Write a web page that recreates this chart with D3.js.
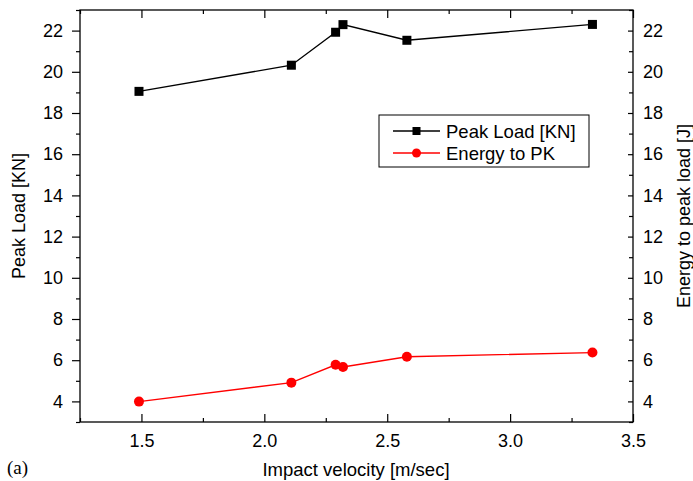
<!DOCTYPE html>
<html>
<head>
<meta charset="utf-8">
<script src="https://cdn.jsdelivr.net/npm/d3@7"></script>
<style>
  body { margin: 0; background: #fff; }
  svg { display: block; font-family: "Liberation Sans", Arial, sans-serif; }
</style>
</head>
<body>
<svg width="693" height="481"></svg>
<script>
const velocity = [1.49, 2.11, 2.29, 2.32, 2.58, 3.335];
const peakLoad = [19.05, 20.32, 21.92, 22.29, 21.53, 22.3];
const energy = [3.99, 4.91, 5.78, 5.67, 6.17, 6.37];
const xTicks = [1.5, 2.0, 2.5, 3.0, 3.5];
const yTicks = [4, 6, 8, 10, 12, 14, 16, 18, 20, 22];

const svg = d3.select("svg");
const plotL = 80, plotR = 633, plotT = 10, plotB = 422;
const fs = 18;

const x = d3.scaleLinear().domain([1.25, 3.5]).range([plotL, plotR]);
const y = d3.scaleLinear().domain([3, 23]).range([plotB, plotT]);

const minorX = d3.range(1.25, 3.5, 0.25).filter(v => !xTicks.some(t => Math.abs(t - v) < 1e-6));
const minorY = d3.range(3, 23.01, 1).filter(v => !yTicks.includes(v));

// frame
svg.append("rect")
  .attr("x", plotL).attr("y", plotT)
  .attr("width", plotR - plotL).attr("height", plotB - plotT)
  .attr("fill", "none").attr("stroke", "#000").attr("stroke-width", 1.3);

const tickStyle = g => g.call(g => g.select(".domain").remove())
  .call(g => g.selectAll("line").attr("stroke", "#000").attr("stroke-width", 1.2))
  .call(g => g.selectAll("text").attr("font-size", fs).attr("fill", "#000"));

// bottom axis (ticks inward)
svg.append("g").attr("transform", `translate(0,${plotB})`)
  .call(d3.axisBottom(x).tickValues(xTicks).tickFormat(d3.format(".1f")).tickSizeInner(-8).tickSizeOuter(0).tickPadding(12))
  .call(tickStyle);
svg.append("g").attr("transform", `translate(0,${plotB})`)
  .call(d3.axisBottom(x).tickValues(minorX).tickFormat("").tickSizeInner(-4).tickSizeOuter(0))
  .call(tickStyle);
// top axis (ticks inward, no labels)
svg.append("g").attr("transform", `translate(0,${plotT})`)
  .call(d3.axisTop(x).tickValues(xTicks).tickFormat("").tickSizeInner(-8).tickSizeOuter(0))
  .call(tickStyle);
svg.append("g").attr("transform", `translate(0,${plotT})`)
  .call(d3.axisTop(x).tickValues(minorX).tickFormat("").tickSizeInner(-4).tickSizeOuter(0))
  .call(tickStyle);

// left axis (ticks outward)
svg.append("g").attr("transform", `translate(${plotL},0)`)
  .call(d3.axisLeft(y).tickValues(yTicks).tickSizeInner(8).tickSizeOuter(0).tickPadding(9))
  .call(tickStyle);
svg.append("g").attr("transform", `translate(${plotL},0)`)
  .call(d3.axisLeft(y).tickValues(minorY).tickFormat("").tickSizeInner(4).tickSizeOuter(0))
  .call(tickStyle);

// right axis (ticks inward)
svg.append("g").attr("transform", `translate(${plotR},0)`)
  .call(d3.axisRight(y).tickValues(yTicks).tickSizeInner(-5).tickSizeOuter(0).tickPadding(10))
  .call(tickStyle);
svg.append("g").attr("transform", `translate(${plotR},0)`)
  .call(d3.axisRight(y).tickValues(minorY).tickFormat("").tickSizeInner(-4).tickSizeOuter(0))
  .call(tickStyle);

// axis titles
svg.append("text")
  .attr("x", 356).attr("y", 476)
  .attr("text-anchor", "middle").attr("font-size", 18.5)
  .text("Impact velocity [m/sec]");
svg.append("text")
  .attr("transform", `translate(25,${(plotT + plotB) / 2}) rotate(-90)`)
  .attr("text-anchor", "middle").attr("font-size", fs)
  .text("Peak Load [KN]");
svg.append("text")
  .attr("transform", `translate(690,${(plotT + plotB) / 2}) rotate(-90)`)
  .attr("text-anchor", "middle").attr("font-size", fs)
  .text("Energy to peak load [J]");
svg.append("text")
  .attr("x", 7).attr("y", 474)
  .attr("font-family", "'Liberation Serif', 'Times New Roman', serif")
  .attr("font-size", 19)
  .text("(a)");

// series
const loadData = velocity.map((v, i) => [v, peakLoad[i]]);
const energyData = velocity.map((v, i) => [v, energy[i]]);
const line = d3.line().x(d => x(d[0])).y(d => y(d[1]));

svg.append("path").datum(loadData)
  .attr("d", line).attr("fill", "none").attr("stroke", "#000").attr("stroke-width", 1.4);
svg.selectAll(".sq").data(loadData).enter().append("rect")
  .attr("class", "sq")
  .attr("x", d => x(d[0]) - 4.5).attr("y", d => y(d[1]) - 4.5)
  .attr("width", 9).attr("height", 9).attr("fill", "#000");

svg.append("path").datum(energyData)
  .attr("d", line).attr("fill", "none").attr("stroke", "#ff0000").attr("stroke-width", 1.4);
svg.selectAll(".dot").data(energyData).enter().append("circle")
  .attr("class", "dot")
  .attr("cx", d => x(d[0])).attr("cy", d => y(d[1]))
  .attr("r", 5).attr("fill", "#ff0000");

// legend
const legend = svg.append("g");
legend.append("rect")
  .attr("x", 379).attr("y", 115).attr("width", 210).attr("height", 52)
  .attr("fill", "#fff").attr("stroke", "#000").attr("stroke-width", 1);
const legendItems = [
  { label: "Peak Load [KN]", color: "#000", shape: "square" },
  { label: "Energy to PK", color: "#ff0000", shape: "circle" }
];
legendItems.forEach((item, i) => {
  const cy = 131 + i * 22;
  legend.append("line")
    .attr("x1", 393).attr("x2", 440).attr("y1", cy).attr("y2", cy)
    .attr("stroke", item.color).attr("stroke-width", 1.4);
  if (item.shape === "square") {
    legend.append("rect").attr("x", 412.5).attr("y", cy - 4)
      .attr("width", 8).attr("height", 8).attr("fill", item.color);
  } else {
    legend.append("circle").attr("cx", 416.5).attr("cy", cy).attr("r", 4.5).attr("fill", item.color);
  }
  legend.append("text")
    .attr("x", 446).attr("y", cy + 7).attr("font-size", 18.5)
    .text(item.label);
});
</script>
</body>
</html>
